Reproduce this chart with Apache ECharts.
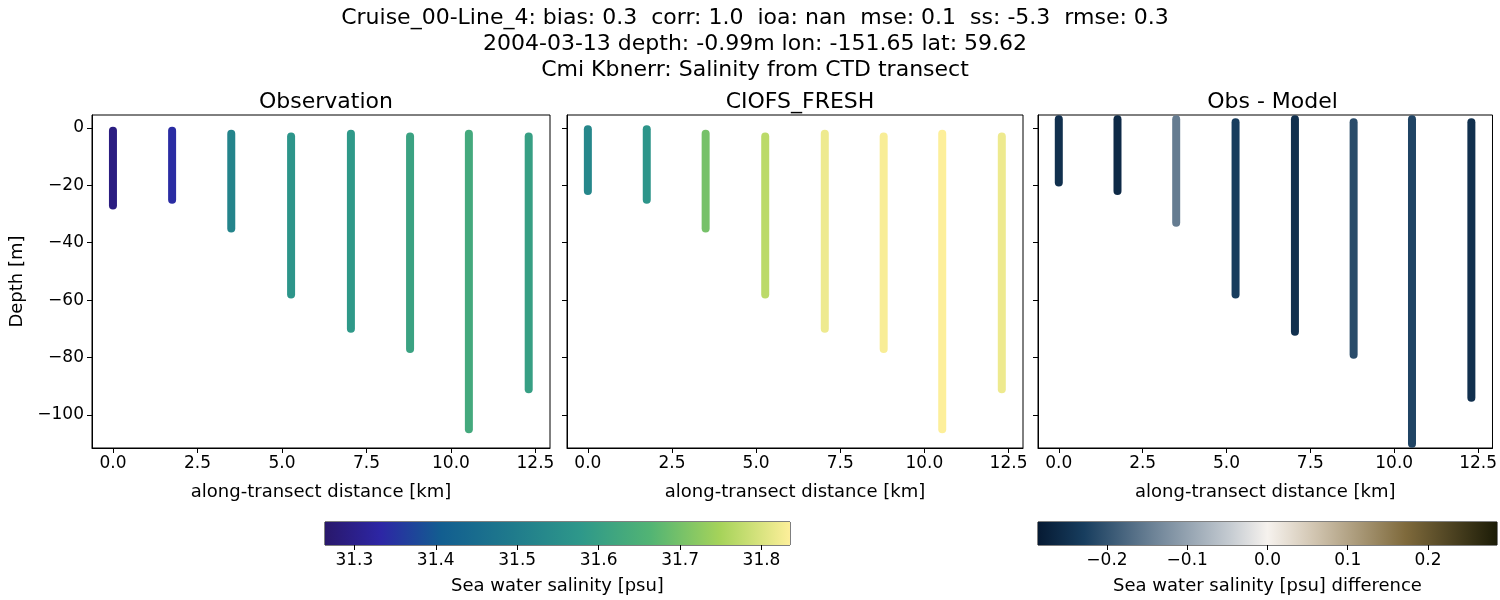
<!DOCTYPE html><html><head><meta charset="utf-8"><script src="https://cdn.jsdelivr.net/npm/echarts@6/dist/echarts.min.js"></script>
<style>body{margin:0;background:#fff}#c{width:1500px;height:600px}</style></head><body><div id="c"></div><script>
const stationX=[0,1.75,3.5,5.27,7.04,8.79,10.53,12.3];
const obsTop=[-1,-1,-2,-3,-2,-3,-2,-3];
const obsBottom=[-27,-25,-35,-58,-70,-77,-105,-91];
const obsSal=[31.29,31.34,31.52,31.57,31.58,31.61,31.63,31.60];
const modTop=[-0.5,-0.5,-2,-3,-2,-3,-2,-3];
const modBottom=[-22,-25,-35,-58,-70,-77,-105,-91];
const modSal=[31.53,31.57,31.70,31.77,31.82,31.83,31.84,31.82];
const difTop=[3,3,3,2,3,2,3,2];
const difBottom=[-19,-22,-33,-58,-71,-79,-110,-94];
const difVal=[-0.25,-0.26,-0.15,-0.23,-0.25,-0.21,-0.22,-0.25];
const xTicks=[0,2.5,5,7.5,10,12.5];
const yTicks=[0,-20,-40,-60,-80,-100];
const salTicks=[31.3,31.4,31.5,31.6,31.7,31.8];
const difTicks=[-0.2,-0.1,0,0.1,0.2];
const SAL=[31.264,31.835], DIF=[-0.286,0.286];
const halineStops=[[0,'#29186b'],[0.12,'#2d26a5'],[0.25,'#125e90'],[0.4,'#1f7a8c'],[0.55,'#2e988a'],[0.7,'#52b474'],[0.85,'#a6d35a'],[1,'#fdef9a']];
const diffStops=[[0,'#061a33'],[0.1,'#173d5e'],[0.25,'#6c8296'],[0.42,'#c6ccd2'],[0.5,'#f6f2ee'],[0.6,'#d2c6b2'],[0.8,'#7f6a3c'],[1,'#1c1c07']];
function hex(h){return [1,3,5].map(i=>parseInt(h.substr(i,2),16));}
function cmap(stops,t){t=Math.max(0,Math.min(1,t));for(let i=1;i<stops.length;i++){if(t<=stops[i][0]){const a=stops[i-1],b=stops[i];const f=(t-a[0])/(b[0]-a[0]);const ca=hex(a[1]),cb=hex(b[1]);return 'rgb('+ca.map((v,k)=>Math.round(v+(cb[k]-v)*f)).join(',')+')';}}return stops[stops.length-1][1];}
const fmt1=v=>(v<0?'\u2212':'')+Math.abs(v).toFixed(1);
const fmt0=v=>(v<0?'\u2212':'')+Math.abs(v).toFixed(0);
const font='DejaVu Sans';
const panels=[{l:92,w:458,t:'Observation'},{l:567,w:456,t:'CIOFS_FRESH'},{l:1038,w:459,t:'Obs - Model'}];
const grid=[],xAxis=[],yAxis=[],series=[],title=[];
title.push({text:'Cruise_00-Line_4: bias: 0.3  corr: 1.0  ioa: nan  mse: 0.1  ss: -5.3  rmse: 0.3\n2004-03-13 depth: -0.99m lon: -151.65 lat: 59.62\nCmi Kbnerr: Salinity from CTD transect',left:750,top:0,textAlign:'center',textStyle:{fontFamily:font,fontSize:22,fontWeight:'normal',color:'#000',lineHeight:26,align:'center'}});
panels.forEach((p,i)=>{
 grid.push({left:p.l,top:115,width:p.w,height:333,show:true,borderColor:'#000',borderWidth:1});
 title.push({text:p.t,left:p.l+p.w/2,top:86,textAlign:'center',textStyle:{fontFamily:font,fontSize:22,fontWeight:'normal',color:'#000'}});
 xAxis.push({type:'value',gridIndex:i,min:-0.62,max:12.93,name:'along-transect distance [km]',nameLocation:'middle',nameGap:35,nameTextStyle:{fontFamily:font,fontSize:18,color:'#000'},
  axisLine:{onZero:false,lineStyle:{color:'#000'}},splitLine:{show:false},axisTick:{customValues:xTicks,length:5,lineStyle:{color:'#000'}},axisLabel:{customValues:xTicks,formatter:fmt1,fontFamily:font,fontSize:17,color:'#000',margin:7}});
 yAxis.push({type:'value',gridIndex:i,min:-111.5,max:4.5,name:i==0?'Depth [m]':'',nameLocation:'middle',nameGap:66,nameTextStyle:{fontFamily:font,fontSize:18,color:'#000'},
  axisLine:{onZero:false,lineStyle:{color:'#000'}},splitLine:{show:false},axisTick:{customValues:yTicks,length:5,lineStyle:{color:'#000'}},axisLabel:{show:i==0,customValues:yTicks,formatter:fmt0,fontFamily:font,fontSize:17,color:'#000'}});
});
const sets=[[obsTop,obsBottom,obsSal,halineStops,SAL],[modTop,modBottom,modSal,halineStops,SAL],[difTop,difBottom,difVal,diffStops,DIF]];
sets.forEach((s,g)=>{
 stationX.forEach((x,k)=>{
  const c=cmap(s[3],(s[2][k]-s[4][0])/(s[4][1]-s[4][0]));
  series.push({type:'line',xAxisIndex:g,yAxisIndex:g,data:[[x,s[0][k]],[x,s[1][k]]],symbol:'none',lineStyle:{width:8,color:c,cap:'round'},silent:true,clip:true});
 });
});
const cbs=[{l:325,w:465,r:SAL,stops:halineStops,ticks:salTicks,name:'Sea water salinity [psu]'},{l:1038,w:459,r:DIF,stops:diffStops,ticks:difTicks,name:'Sea water salinity [psu] difference'}];
cbs.forEach((cb,j)=>{
 const gi=3+j;
 grid.push({left:cb.l,top:522,width:cb.w,height:23,show:true,borderColor:'#000',borderWidth:1});
 xAxis.push({type:'value',gridIndex:gi,min:cb.r[0],max:cb.r[1],name:cb.name,nameLocation:'middle',nameGap:42,nameTextStyle:{fontFamily:font,fontSize:18,color:'#000',verticalAlign:'top',padding:[-10,0,0,0]},axisLine:{show:false},splitLine:{show:false},axisTick:{customValues:cb.ticks,length:5,lineStyle:{color:'#000'}},axisLabel:{customValues:cb.ticks,formatter:fmt1,fontFamily:font,fontSize:17,color:'#000',margin:7}});
 yAxis.push({type:'value',gridIndex:gi,min:0,max:1,show:false});
 series.push({type:'custom',xAxisIndex:gi,yAxisIndex:gi,data:[[0]],silent:true,renderItem:(params,api)=>{const r=params.coordSys;return {type:'rect',shape:{x:r.x,y:r.y,width:r.width,height:r.height},style:{fill:new echarts.graphic.LinearGradient(0,0,1,0,cb.stops.map(s=>({offset:s[0],color:s[1]})))}};}});
});
const chart=echarts.init(document.getElementById('c'));
chart.setOption({animation:false,backgroundColor:'#fff',title,grid,xAxis,yAxis,series});
</script></body></html>
